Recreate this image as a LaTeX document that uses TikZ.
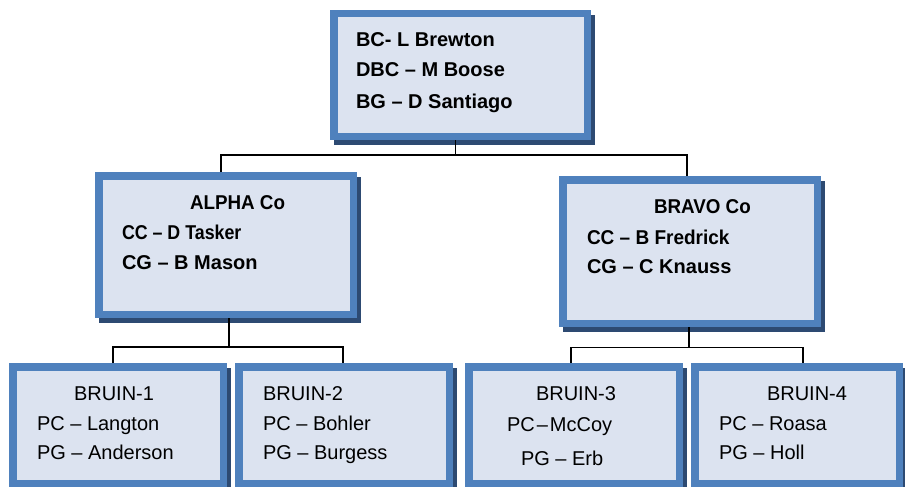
\documentclass[tikz,border=0pt]{standalone}
\usepackage{fontspec}
\setmainfont{Liberation Sans}
\definecolor{bordc}{HTML}{4F81BD}
\definecolor{fillc}{HTML}{DCE3F0}
\definecolor{shadc}{HTML}{2D4A72}
\tikzset{
  obox/.style={draw=bordc, fill=fillc, line width=7.5pt, rectangle, inner sep=0pt, outer sep=3.75pt},
  txt/.style={inner sep=0pt, outer sep=0pt, anchor=base west, text=black, font=\fontsize{20}{24}\selectfont},
  btxt/.style={txt, font=\fontsize{20}{24}\selectfont\bfseries},
  conn/.style={draw=black, line width=1.5pt}
}
\newcommand\orgbox[5]{%
  \fill[shadc] ({#2+4},{#3+5}) rectangle ({#4+4},{#5+5});
  \node[obox, minimum width={(#4-#2-7.5)*1pt}, minimum height={(#5-#3-7.5)*1pt}] (#1) at ({(#2+#4)/2},{(#3+#5)/2}) {};}
\newcommand\tx[5][txt]{\node[#1] (#2) at (#3,#4) {#5};}
\begin{document}
\begin{tikzpicture}[x=1pt,y=-1pt]
\useasboundingbox (0,0) rectangle (905,487);
% boxes
\orgbox{top}{330}{10}{591}{140}
\orgbox{alpha}{95}{172}{357}{318}
\orgbox{bravo}{559}{176}{821}{327}
\orgbox{b1}{9}{363}{227}{487}
\orgbox{b2}{235}{363}{453}{487}
\orgbox{b3}{465}{363}{683}{487}
\orgbox{b4}{691}{363}{903}{487}
% connectors
\draw[conn] ([xshift=-5pt]top.south) -- ++(0,15) coordinate (j0);
\draw[conn] ([xshift=-5pt]alpha.north) |- (j0) -| ([xshift=-3pt]bravo.north);
\draw[conn] ([xshift=3pt]alpha.south) -- ++(0,29) coordinate (j1);
\draw[conn] ([xshift=-5pt]b1.north) |- (j1) -| ([xshift=-1pt]b2.north);
\draw[conn] ([xshift=-1pt]bravo.south) -- ++(0,20.3) coordinate (j2);
\draw[conn] ([xshift=-3pt]b3.north) |- (j2) -| ([xshift=6pt]b4.north);
% texts
\tx[btxt]{ta}{356}{46.7}{BC- L Brewton}
\tx[btxt]{tb}{356}{76.7}{DBC – M Boose}
\tx[btxt]{tc}{356}{108}{BG – D Santiago}
\tx[btxt]{aa}{190}{209}{\scalebox{0.94}[1]{ALPHA Co}}
\tx[btxt]{ab}{122}{239}{\scalebox{0.89}[1]{CC – D Tasker}}
\tx[btxt]{ac}{122}{269}{CG – B Mason}
\tx[btxt]{ba}{654}{213}{\scalebox{0.94}[1]{BRAVO Co}}
\tx[btxt]{bb}{587}{244}{\scalebox{0.95}[1]{CC – B Fredrick}}
\tx[btxt]{bc}{587}{273}{CG – C Knauss}
\tx{ca}{74}{400}{BRUIN-1}
\tx{cb}{37}{430}{PC – Langton}
\tx{cc}{37}{459}{PG – Anderson}
\tx{da}{263}{400}{BRUIN-2}
\tx{db}{263}{430}{PC – Bohler}
\tx{dc}{263}{459}{PG – Burgess}
\tx{ea}{536}{400}{BRUIN-3}
\tx{eb}{507}{431}{PC\hspace{2pt}–\hspace{2pt}McCoy}
\tx{ec}{521}{465}{PG – Erb}
\tx{fa}{767}{400}{BRUIN-4}
\tx{fb}{719}{430}{PC – Roasa}
\tx{fc}{719}{459}{PG – Holl}
\end{tikzpicture}
\end{document}
